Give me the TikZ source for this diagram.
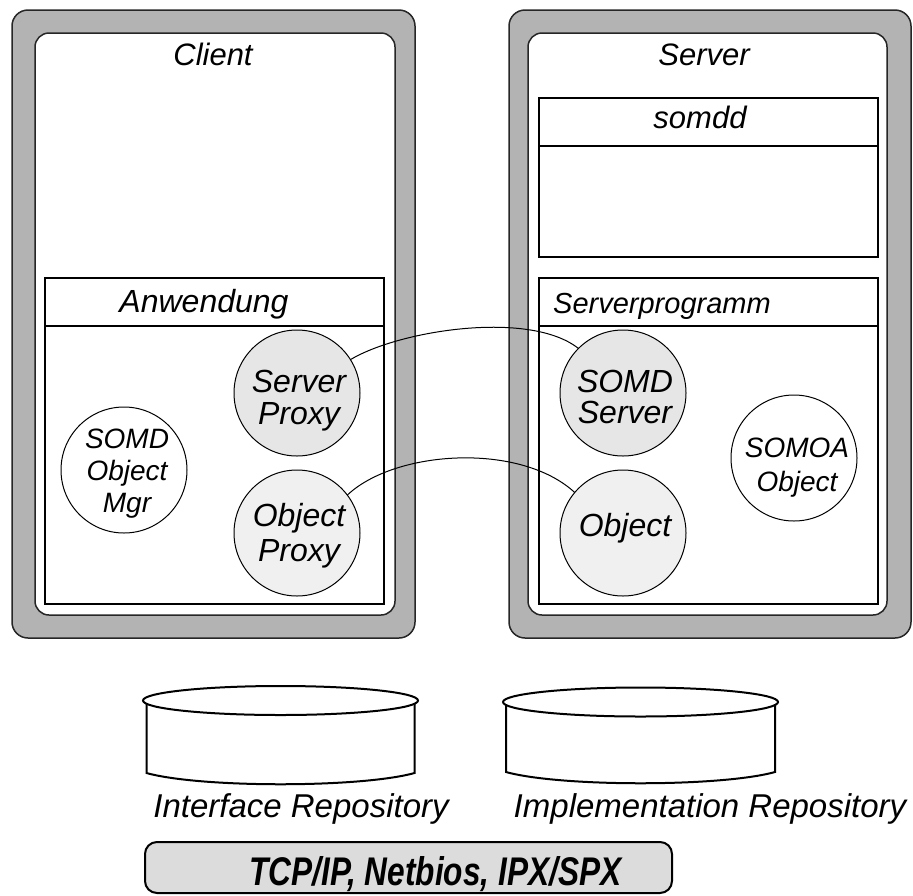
\documentclass[tikz,border=0pt]{standalone}
\usepackage{fontspec}
\setmainfont{Liberation Sans}
\usetikzlibrary{calc}
\definecolor{boxgray}{RGB}{179,179,179}
\definecolor{circA}{RGB}{230,230,230}
\definecolor{circB}{RGB}{240,240,240}
\definecolor{barfill}{RGB}{220,220,220}
\newcommand\myfs[1]{\fontsize{#1}{#1}\selectfont\itshape}
\newcommand\myfsl[2]{\fontsize{#1}{#2}\selectfont\itshape}
\begin{document}
\begin{tikzpicture}[x=1pt,y=-1pt,
  outerbox/.style={draw=black!85, line width=1.5, fill=boxgray, rounded corners=16, inner sep=0, outer sep=0},
  innerbox/.style={draw=black!85, line width=1.5, fill=white, rounded corners=14, inner sep=0, outer sep=0},
  progbox/.style={draw=black, line width=2.5, fill=white, inner sep=0, outer sep=0},
  progline/.style={draw=black, line width=2.5},
  circ/.style={circle, draw=black, line width=1, minimum size=126, inner sep=0, outer sep=0},
  link/.style={draw=black, line width=1},
  cyl/.style={draw=black, line width=2, fill=white},
  lbl/.style={inner sep=0, align=center},
  barbox/.style={draw=black, line width=2, fill=barfill, rounded corners=12, inner sep=0, outer sep=0}
]
\useasboundingbox (0,0) rectangle (913,895);

% client
\node[outerbox, minimum width=403, minimum height=628] (cout) at (213.5,324) {};
\node[innerbox, minimum width=360, minimum height=582] (cin) at (215,324) {};
\node[lbl, anchor=base, font=\myfs{31}] (tclient) at (213,65) {Client};
\node[progbox, minimum width=339, minimum height=326] (anw) at (214.5,441) {};
\draw[progline] ($(anw.north west)+(0,48)$) -- ($(anw.north east)+(0,48)$);
\node[lbl, anchor=base, font=\myfs{32}] (tanw) at (204,312) {Anwendung};

% server
\node[outerbox, minimum width=402, minimum height=628] (sout) at (710,324) {};
\node[innerbox, minimum width=359, minimum height=582] (sin) at (707.5,324) {};
\node[lbl, anchor=base, font=\myfs{31}] (tserver) at (704,65) {Server};
\node[progbox, minimum width=339, minimum height=159] (somdd) at (708.5,177.5) {};
\draw[progline] ($(somdd.north west)+(0,48)$) -- ($(somdd.north east)+(0,48)$);
\node[lbl, anchor=base, font=\myfs{31}] (tsomdd) at (700,128) {somdd};
\node[progbox, minimum width=339, minimum height=326] (sprog) at (708.5,441) {};
\draw[progline] ($(sprog.north west)+(0,48)$) -- ($(sprog.north east)+(0,48)$);
\node[lbl, anchor=base west, font=\myfs{29}] (tsprog) at (553,313) {Serverprogramm};

% circles client
\node[circ, fill=circA] (sp) at (297,393) {};
\node[lbl, font=\myfsl{32}{32}] (tsp) at (299,401) {Server\\Proxy};
\node[circ, fill=circB] (op) at (297,533) {};
\node[lbl, font=\myfsl{32}{35}] (top) at (299,536) {Object\\Proxy};
\node[circ, fill=white] (mgr) at (124,470) {};
\node[lbl, font=\myfsl{28}{32}] (tmgr) at (127,474) {SOMD\\Object\\Mgr};

% circles server
\node[circ, fill=circA] (ss) at (623,393) {};
\node[lbl, font=\myfsl{32}{31}] (tss) at (625,397) {SOMD\\Server};
\node[circ, fill=circB] (ob) at (623,533) {};
\node[lbl, font=\myfs{32}] (tob) at (625,528) {Object};
\node[circ, fill=white] (somoa) at (794,458) {};
\node[lbl, font=\myfsl{28}{34}] (tsomoa) at (797,468) {SOMOA\\Object};

% connectors
\draw[link] (sp.32) .. controls (400,330) and (530,310) .. (ss.135);
\draw[link] (op.37) .. controls (395,450) and (520,442) .. (ob.140);

% cylinders
\draw[cyl] (146.5,704) -- (146.5,773) .. controls (200.5,788) and (360.5,788) .. (414.5,773) -- (414.5,704);
\draw[cyl] (280.5,700.5) ellipse [x radius=137.5, y radius=14.5];
\node[lbl, anchor=base, font=\myfs{33}] (tir) at (301,817) {Interface Repository};

\draw[cyl] (506,705) -- (506,772) .. controls (560,787) and (721,787) .. (775,772) -- (775,705);
\draw[cyl] (640.5,702) ellipse [x radius=137.5, y radius=14.5];
\node[lbl, anchor=base, font=\myfs{33}] (timp) at (710,817) {Implementation Repository};

% bottom bar
\node[barbox, minimum width=527, minimum height=51] (bar) at (408.5,867.5) {};
\node[lbl, anchor=base] (tbar) at (435.5,885) {\scalebox{0.79}[1]{\fontsize{40}{40}\selectfont\bfseries\itshape TCP/IP, Netbios, IPX/SPX}};
\end{tikzpicture}
\end{document}
